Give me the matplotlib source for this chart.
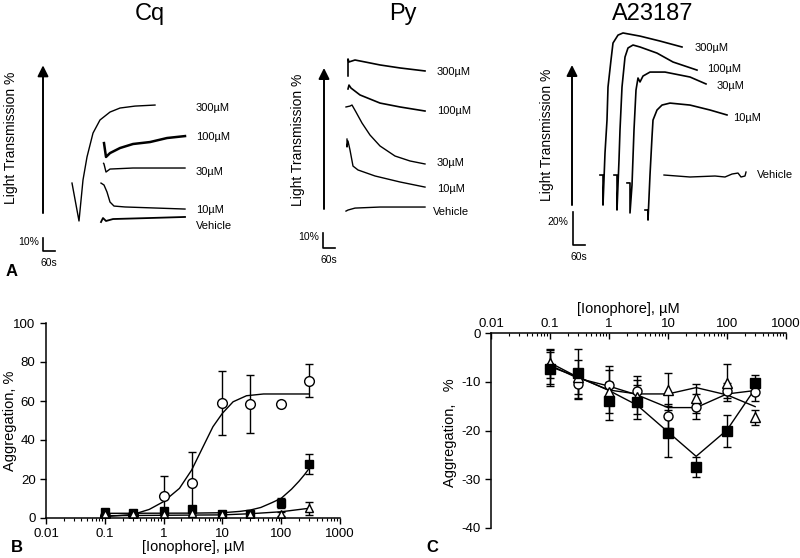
import matplotlib
matplotlib.use('Agg')
import matplotlib.pyplot as plt
from matplotlib.ticker import FixedLocator, FixedFormatter, LogLocator, NullFormatter

plt.rcParams['font.family'] = ['Liberation Sans', 'DejaVu Sans']
plt.rcParams['axes.unicode_minus'] = False

W, H = 800, 558

# ---------------- panel A: aggregometer traces, time (s) vs light transmission (%)
# Cq
cq_t300 = [0, 35, 55, 75, 105, 140, 190, 240, 315, 415]
cq_y300 = [32.3, 3.1, 34.7, 52.4, 70.8, 80.9, 87.0, 90.1, 91.6, 92.4]
cq_t100 = [160, 170, 190, 240, 305, 390, 475, 565]
cq_y100 = [63.1, 52.4, 55.4, 59.3, 62.4, 63.9, 67.0, 68.5]
cq_t30 = [158, 160, 170, 190, 305, 565]
cq_y30 = [47.5, 47.0, 40.8, 43.1, 43.9, 43.9]
cq_t10 = [145, 160, 175, 190, 210, 265, 565]
cq_y10 = [32.3, 30.8, 25.4, 17.7, 14.6, 13.9, 12.3]
cq_tveh = [145, 155, 170, 205, 390, 565]
cq_yveh = [2.3, 5.4, 3.1, 4.6, 5.4, 6.2]

# Py
py_t300 = [0, 0, 5, 35, 85, 160, 260, 385]
py_y300 = [99.4, 110.7, 108.7, 110.0, 108.7, 106.7, 104.7, 102.7]
py_t100 = [0, 5, 15, 60, 110, 160, 260, 385]
py_y100 = [90.7, 93.3, 91.3, 86.7, 84.0, 81.3, 78.7, 76.0]
py_t30 = [-10, 10, 20, 40, 70, 110, 160, 235, 310, 385]
py_y30 = [78.7, 79.3, 80.0, 75.3, 68.0, 60.0, 52.7, 46.0, 42.7, 40.7]
py_t10 = [-5, -5, 0, 10, 25, 50, 135, 260, 385]
py_y10 = [57.3, 52.0, 56.0, 50.0, 39.3, 36.7, 32.7, 28.7, 25.3]
py_tveh = [-10, 0, 35, 160, 385]
py_yveh = [9.3, 10.0, 11.3, 12.0, 12.0]

# A23187
a23_t300 = [-10, 5, 5, 15, 25, 30, 45, 55, 80, 105, 190, 290, 400]
a23_y300 = [30.3, 30.3, 12.1, 43.6, 63.6, 83.6, 100.0, 110.3, 115.1, 116.4, 114.5, 111.5, 107.9]
a23_t100 = [60, 75, 75, 85, 90, 100, 115, 130, 155, 190, 275, 355, 475]
a23_y100 = [30.3, 30.3, 9.1, 39.4, 57.6, 83.6, 101.8, 107.3, 109.1, 107.9, 104.2, 98.8, 93.9]
a23_t30 = [125, 140, 140, 150, 160, 170, 180, 190, 205, 240, 315, 440, 520]
a23_y30 = [25.5, 25.5, 7.3, 24.2, 57.6, 81.8, 89.1, 86.7, 90.3, 92.7, 92.7, 89.7, 85.5]
a23_t10 = [215, 230, 230, 240, 250, 255, 275, 300, 340, 440, 540, 625]
a23_y10 = [9.1, 9.1, 3.0, 30.3, 53.3, 63.6, 69.7, 72.7, 73.9, 72.7, 69.7, 66.7]
a23_tveh = [310, 440, 565, 615, 650, 680, 695, 715, 720]
a23_yveh = [30.3, 29.1, 29.7, 29.1, 30.9, 31.5, 29.1, 29.7, 32.1]

doses = ['300µM', '100µM', '30µM', '10µM', 'Vehicle']

# ---------------- panels B and C: aggregation (%) vs ionophore (µM)
conc = [0.1, 0.3, 1, 3, 10, 30, 100, 300]

b_circ = [1.0, 1.5, 11.4, 17.8, 59.1, 58.3, 58.3, 70.4]
b_circ_err = [0.5, 0.5, 10.3, 16.2, 16.4, 14.8, 1.5, 8.6]
b_sq = [3.2, 2.7, 3.8, 4.8, 2.0, 2.0, 7.5, 27.7]
b_sq_err = [0.5, 0.5, 0.5, 0.5, 0.5, 0.5, 2.6, 5.0]
b_tri = [2.0, 2.0, 2.0, 2.7, 2.0, 2.0, 2.0, 5.0]
b_tri_err = [0.3, 0.3, 0.3, 0.3, 0.3, 0.3, 1.0, 3.4]

# fitted curves
b_fit_circ_x = [0.1, 0.3, 0.57, 1, 1.86, 3, 4.7, 6.9, 10, 15.2, 25.7, 50, 300]
b_fit_circ_y = [0.7, 1.8, 4.4, 8.4, 15.2, 24.6, 36.6, 46.8, 53.7, 59.6, 62.7, 63.6, 63.6]
b_fit_sq_x = [0.1, 3, 10, 20, 30, 45, 70, 100, 150, 200, 250, 300]
b_fit_sq_y = [2.4, 2.5, 2.7, 3.4, 4.1, 5.4, 7.9, 10.1, 14.8, 18.8, 22.3, 25.5]
b_fit_tri_x = [0.1, 10, 30, 100, 300]
b_fit_tri_y = [1.2, 1.6, 2.2, 3.2, 5.0]

c_sq = [-7.3, -8.3, -14.0, -14.1, -20.6, -27.5, -20.1, -10.3]
c_sq_err = [3.5, 5.0, 3.9, 3.5, 4.8, 2.1, 3.2, 1.7]
c_circ = [-7.0, -10.5, -10.7, -11.9, -17.0, -15.1, -11.8, -12.0]
c_circ_err = [3.5, 3.0, 4.0, 3.0, 2.5, 2.6, 1.5, 2.0]
c_tri = [-6.2, -9.1, -12.0, -13.1, -11.6, -13.4, -10.2, -17.3]
c_tri_err = [3.0, 3.5, 4.5, 3.5, 3.4, 3.0, 3.8, 1.5]

c_line_sq = [-6.9, -9.0, -11.8, -14.8, -20.3, -25.3, -19.9, -11.4]
c_line_circ = [-6.6, -9.3, -10.9, -12.7, -15.3, -15.3, -12.5, -11.8]
c_line_tri = [-6.1, -9.1, -11.7, -12.5, -12.5, -11.2, -12.7, -15.1]

ticks_x = [0.01, 0.1, 1, 10, 100, 1000]
ticks_x_lab = ['0.01', '0.1', '1', '10', '100', '1000']

fig = plt.figure(figsize=(8, 5.58), dpi=100)


def px_axes(x0, x1, ytop, ybot):
    return fig.add_axes([x0 / W, 1 - ybot / H, (x1 - x0) / W, (ybot - ytop) / H])


def trace_panel(x0, x1, xlim, ylim, traces, labels, lab_pos, arrow, bar, bar_pct, ylab_pos):
    ax = px_axes(x0, x1, 30, 275)
    ax.set_xlim(xlim)
    ax.set_ylim(ylim)
    ax.axis('off')
    for (t, y), lw in traces:
        ax.plot(t, y, color='k', lw=lw)
    for lab, (tx, ty) in zip(labels, lab_pos):
        ax.text(tx, ty, lab, fontsize=8, ha='left', va='center')
    ax.annotate('', xy=(arrow[0], arrow[2]), xytext=(arrow[0], arrow[1]),
                arrowprops=dict(arrowstyle='-|>', color='k', lw=1.4, mutation_scale=16,
                                shrinkA=0, shrinkB=0))
    bx, btop, bbot = bar
    ax.plot([bx, bx, bx + 60], [btop, bbot, bbot], color='k', lw=1.2)
    ax.text(bx - 22, (btop + bbot) / 2 + (btop - bbot) * 0.2, bar_pct, fontsize=7.5, ha='right', va='center')
    ax.text(bx + 30, bbot - (ylim[1] - ylim[0]) * 0.048, '60s',
            fontsize=7.5, ha='center', va='center')
    ax.text(ylab_pos[0], ylab_pos[1], 'Light Transmission %', rotation=90, fontsize=10,
            ha='center', va='center')
    return ax


trace_panel(0, 270, (-360, 990), (-38.5, 150.2),
            [((cq_t300, cq_y300), 1.0), ((cq_t100, cq_y100), 1.8), ((cq_t30, cq_y30), 1.0),
             ((cq_t10, cq_y10), 1.0), ((cq_tveh, cq_yveh), 1.3)],
            doses, [(620, 90), (620, 67.8), (620, 40.8), (620, 11.6), (620, -0.8)],
            (-145, 9.2, 123), (-145, -10, -20), '10%', (-305, 67))

trace_panel(270, 520, (-390, 860), (-33.3, 130),
            [((py_t300, py_y300), 1.2), ((py_t100, py_y100), 1.2), ((py_t30, py_y30), 1.0),
             ((py_t10, py_y10), 1.0), ((py_tveh, py_yveh), 1.0)],
            doses, [(445, 102), (445, 76), (445, 41.3), (445, 24), (425, 8.7)],
            (-120, 10.7, 104.7), (-125, -5.3, -15.3), '10%', (-250, 56.7))

trace_panel(520, 800, (-410, 990), (-30.3, 118.2),
            [((a23_t300, a23_y300), 1.2), ((a23_t100, a23_y100), 1.2), ((a23_t30, a23_y30), 1.2),
             ((a23_t10, a23_y10), 1.2), ((a23_tveh, a23_yveh), 1.0)],
            doses, [(465, 107.3), (525, 94.5), (575, 84.2), (655, 64.8), (775, 30.3)],
            (-150, 12.1, 97), (-145, 7.9, -12.1), '20%', (-275, 54.5))

for txt, x in [('Cq', 150), ('Py', 403), ('A23187', 653)]:
    fig.text(x / W, 1 - 14 / H, txt, fontsize=17, ha='center', va='center')

fig.text(12 / W, 1 - 272 / H, 'A', fontsize=12, weight='bold', ha='center', va='center')
fig.text(17 / W, 1 - 548 / H, 'B', fontsize=12, weight='bold', ha='center', va='center')
fig.text(432 / W, 1 - 547 / H, 'C', fontsize=12, weight='bold', ha='center', va='center')


def style_log_x(ax):
    ax.set_xscale('log')
    ax.set_xlim(0.01, 1000)
    ax.xaxis.set_major_locator(FixedLocator(ticks_x))
    ax.xaxis.set_major_formatter(FixedFormatter(ticks_x_lab))
    ax.xaxis.set_minor_locator(LogLocator(base=10, subs=range(2, 10), numticks=20))
    ax.xaxis.set_minor_formatter(NullFormatter())
    ax.tick_params(which='major', length=4, width=1, labelsize=9.5)
    ax.tick_params(which='minor', length=2.5, width=0.8)
    for s in ax.spines.values():
        s.set_linewidth(1.1)


ebkw = dict(ecolor='k', elinewidth=1, capsize=3, capthick=1, linestyle='none', mec='k', mew=1)

# ---------------- panel B
axB = px_axes(46, 340, 323, 518)
style_log_x(axB)
axB.set_ylim(0, 100)
axB.set_yticks([0, 20, 40, 60, 80, 100])
axB.spines['top'].set_visible(False)
axB.spines['right'].set_visible(False)
axB.plot(b_fit_circ_x, b_fit_circ_y, color='k', lw=1)
axB.plot(b_fit_sq_x, b_fit_sq_y, color='k', lw=1)
axB.plot(b_fit_tri_x, b_fit_tri_y, color='k', lw=1)
axB.errorbar(conc, b_circ, yerr=b_circ_err, fmt='o', mfc='white', ms=7, **ebkw)
axB.errorbar(conc, b_sq, yerr=b_sq_err, fmt='s', mfc='k', ms=6, **ebkw)
axB.errorbar(conc, b_tri, yerr=b_tri_err, fmt='^', mfc='white', ms=6, **ebkw)
axB.set_xlabel('[Ionophore], µM', fontsize=10.5)
axB.xaxis.set_label_coords(0.5, -0.115)
axB.set_ylabel('Aggregation, %', fontsize=10.5)
axB.yaxis.set_label_coords(-0.098, 0.5)

# ---------------- panel C
axC = px_axes(491, 786, 333, 528)
style_log_x(axC)
axC.set_ylim(-40, 0)
axC.set_yticks([0, -10, -20, -30, -40])
axC.spines['bottom'].set_visible(False)
axC.spines['right'].set_visible(False)
axC.xaxis.tick_top()
axC.tick_params(axis='x', which='both', direction='in', pad=2)
axC.plot(conc, c_line_sq, color='k', lw=1)
axC.plot(conc, c_line_circ, color='k', lw=1)
axC.plot(conc, c_line_tri, color='k', lw=1)
axC.errorbar(conc, c_circ, yerr=c_circ_err, fmt='o', mfc='white', ms=6.5, **ebkw)
axC.errorbar(conc, c_tri, yerr=c_tri_err, fmt='^', mfc='white', ms=7, **ebkw)
axC.errorbar(conc, c_sq, yerr=c_sq_err, fmt='s', mfc='k', ms=6.5, **ebkw)
axC.xaxis.set_label_position('top')
axC.set_xlabel('[Ionophore], µM', fontsize=10.5)
axC.xaxis.set_label_coords(0.464, 1.10)
axC.set_ylabel('Aggregation,   %', fontsize=10.5)
axC.yaxis.set_label_coords(-0.115, 0.487)

fig.savefig('out.png', dpi=100)
